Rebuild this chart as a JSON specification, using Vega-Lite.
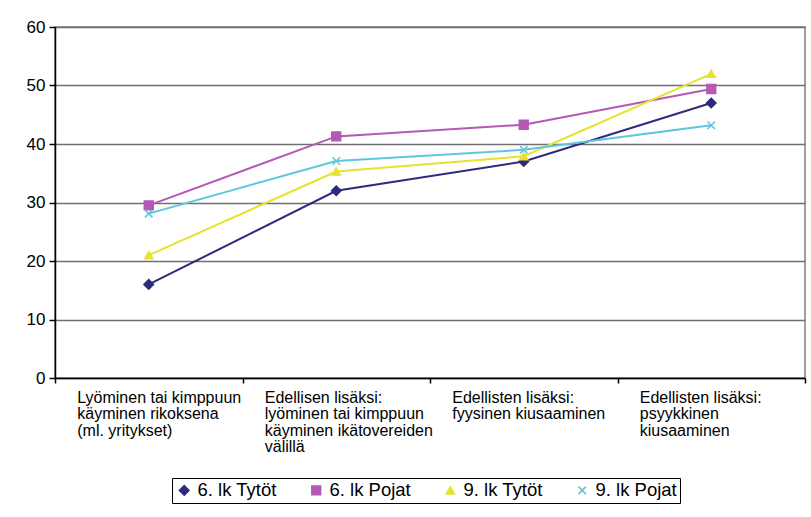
{
  "$schema": "https://vega.github.io/schema/vega-lite/v6.json",
  "width": 750,
  "height": 351,
  "autosize": {"type": "none"},
  "padding": {"left": 55, "top": 27, "right": 6, "bottom": 139},
  "background": "white",
  "config": {
    "font": "Liberation Sans",
    "view": {"stroke": "#808080", "strokeWidth": 1.5}
  },
  "data": {
    "values": [
      {"cat": "Lyöminen tai kimppuun|käyminen rikoksena|(ml. yritykset)", "series": "6. lk Tytöt", "value": 16},
      {"cat": "Edellisen lisäksi:|lyöminen tai kimppuun|käyminen ikätovereiden|välillä", "series": "6. lk Tytöt", "value": 32},
      {"cat": "Edellisten lisäksi:|fyysinen kiusaaminen", "series": "6. lk Tytöt", "value": 37},
      {"cat": "Edellisten lisäksi:|psyykkinen|kiusaaminen", "series": "6. lk Tytöt", "value": 47},
      {"cat": "Lyöminen tai kimppuun|käyminen rikoksena|(ml. yritykset)", "series": "6. lk Pojat", "value": 29.5},
      {"cat": "Edellisen lisäksi:|lyöminen tai kimppuun|käyminen ikätovereiden|välillä", "series": "6. lk Pojat", "value": 41.3},
      {"cat": "Edellisten lisäksi:|fyysinen kiusaaminen", "series": "6. lk Pojat", "value": 43.3},
      {"cat": "Edellisten lisäksi:|psyykkinen|kiusaaminen", "series": "6. lk Pojat", "value": 49.4},
      {"cat": "Lyöminen tai kimppuun|käyminen rikoksena|(ml. yritykset)", "series": "9. lk Tytöt", "value": 21},
      {"cat": "Edellisen lisäksi:|lyöminen tai kimppuun|käyminen ikätovereiden|välillä", "series": "9. lk Tytöt", "value": 35.3},
      {"cat": "Edellisten lisäksi:|fyysinen kiusaaminen", "series": "9. lk Tytöt", "value": 37.9},
      {"cat": "Edellisten lisäksi:|psyykkinen|kiusaaminen", "series": "9. lk Tytöt", "value": 52},
      {"cat": "Lyöminen tai kimppuun|käyminen rikoksena|(ml. yritykset)", "series": "9. lk Pojat", "value": 28.1},
      {"cat": "Edellisen lisäksi:|lyöminen tai kimppuun|käyminen ikätovereiden|välillä", "series": "9. lk Pojat", "value": 37.1},
      {"cat": "Edellisten lisäksi:|fyysinen kiusaaminen", "series": "9. lk Pojat", "value": 39},
      {"cat": "Edellisten lisäksi:|psyykkinen|kiusaaminen", "series": "9. lk Pojat", "value": 43.2}
    ]
  },
  "encoding": {
    "x": {
      "field": "cat",
      "type": "nominal",
      "sort": null,
      "scale": {"type": "band", "paddingInner": 0, "paddingOuter": 0},
      "axis": {
        "title": null,
        "labelAngle": 0,
        "labelExpr": "split(datum.label, '|')",
        "labelAlign": "left",
        "labelBaseline": "top",
        "labelFontSize": 16,
        "labelLineHeight": 16.5,
        "labelColor": "black",
        "labelPadding": 6,
        "labelLimit": 300,
        "labelOffset": -72,
        "tickBand": "extent",
        "tickSize": 5,
        "tickColor": "black",
        "tickWidth": 1.5,
        "domainColor": "black",
        "domainWidth": 1.5,
        "grid": false
      }
    },
    "y": {
      "field": "value",
      "type": "quantitative",
      "scale": {"domain": [0, 60], "nice": false},
      "axis": {
        "title": null,
        "values": [0, 10, 20, 30, 40, 50, 60],
        "labelFontSize": 17,
        "labelColor": "black",
        "labelPadding": 4,
        "tickSize": 6,
        "tickColor": "black",
        "tickWidth": 1.5,
        "domainColor": "black",
        "domainWidth": 1.5,
        "grid": true,
        "gridColor": "#6f6f6f",
        "gridWidth": 1.5
      }
    },
    "color": {
      "field": "series",
      "type": "nominal",
      "scale": {
        "domain": ["6. lk Tytöt", "6. lk Pojat", "9. lk Tytöt", "9. lk Pojat"],
        "range": ["#2d2b7e", "#b558b6", "#e8e22c", "#5cc6dc"]
      },
      "legend": {
        "title": null,
        "orient": "none",
        "legendX": 117,
        "legendY": 451,
        "direction": "horizontal",
        "strokeColor": "black",
        "padding": 3,
        "symbolStrokeWidth": 1.5,
        "labelFontSize": 18.5,
        "labelColor": "black",
        "labelOffset": 4,
        "columnPadding": 30
      }
    }
  },
  "layer": [
    {
      "mark": {"type": "line", "strokeWidth": 2}
    },
    {
      "mark": {"type": "point", "filled": true, "opacity": 1, "strokeWidth": 1.5},
      "encoding": {
        "shape": {
          "field": "series",
          "type": "nominal",
          "scale": {
            "domain": ["6. lk Tytöt", "6. lk Pojat", "9. lk Tytöt", "9. lk Pojat"],
            "range": ["diamond", "square", "triangle-up", "M-1,-1L1,1M1,-1L-1,1"]
          },
          "legend": null
        },
        "size": {
          "field": "series",
          "type": "nominal",
          "scale": {
            "domain": ["6. lk Tytöt", "6. lk Pojat", "9. lk Tytöt", "9. lk Pojat"],
            "range": [90, 56, 110, 90]
          },
          "legend": null
        },
        "stroke": {
          "field": "series",
          "type": "nominal",
          "scale": {
            "domain": ["6. lk Tytöt", "6. lk Pojat", "9. lk Tytöt", "9. lk Pojat"],
            "range": ["#2d2b7e", "#b558b6", "#e8e22c", "#5cc6dc"]
          },
          "legend": null
        }
      }
    }
  ]
}
